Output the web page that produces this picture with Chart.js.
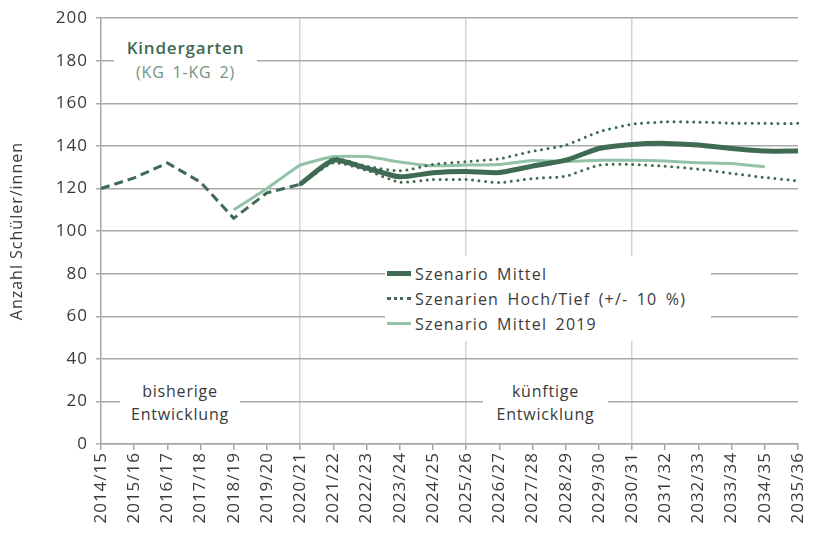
<!DOCTYPE html>
<html lang="de">
<head>
<meta charset="UTF-8">
<script src="https://cdn.jsdelivr.net/npm/chart.js"></script>
<title>Kindergarten</title>
<style>
  html, body { margin: 0; padding: 0; background: #fff; }
  #wrap { position: relative; width: 815px; height: 533px; font-family: "Open Sans", sans-serif; color: #3a3a3a; }
  canvas { position: absolute; left: 0; top: 0; }
  .box { position: absolute; background: #fff; text-align: center; letter-spacing: 0.8px; word-spacing: 3px; }
  .legend-row { position: absolute; left: 0; font-size: 16px; line-height: 20px; white-space: nowrap; letter-spacing: 1.2px; }
  .legend-row span.sample { position: absolute; left: 2px; top: 9px; width: 24px; }
  .legend-row span.text { position: absolute; left: 30px; top: 0; }
</style>
</head>
<body>
<div id="wrap">
  <canvas id="chart" width="815" height="533"></canvas>

  <!-- annotations -->
  <div class="box" style="left:114px; top:36px; width:143px; height:54px;">
    <div style="font-size:17px; font-weight:600; color:#3f6a53; line-height:24px;">Kindergarten</div>
    <div style="font-size:16px; color:#6f9480; line-height:24px;">(KG 1-KG 2)</div>
  </div>
  <div class="box" style="left:120px; top:380px; width:120px; height:46px; font-size:16px; line-height:23px;">bisherige<br>Entwicklung</div>
  <div class="box" style="left:483px; top:380px; width:125px; height:46px; font-size:16px; line-height:23px;">künftige<br>Entwicklung</div>

  <!-- legend -->
  <div class="box" style="left:385px; top:256px; width:326px; height:85px; text-align:left;">
    <div class="legend-row" style="top:8px;"><span class="sample" style="border-top:5px solid #3f6a53; top:7px;"></span><span class="text">Szenario Mittel</span></div>
    <div class="legend-row" style="top:33px;"><span class="sample" style="border-top:3px dotted #3f6a53; top:8px;"></span><span class="text">Szenarien Hoch/Tief (+/- 10 %)</span></div>
    <div class="legend-row" style="top:58px;"><span class="sample" style="border-top:3px solid #93c2a8; top:8px;"></span><span class="text">Szenario Mittel 2019</span></div>
  </div>
</div>

<script>
// school years
const years = ['2014/15', '2015/16', '2016/17', '2017/18', '2018/19', '2019/20', '2020/21',
  '2021/22', '2022/23', '2023/24', '2024/25', '2025/26', '2026/27', '2027/28', '2028/29',
  '2029/30', '2030/31', '2031/32', '2032/33', '2033/34', '2034/35', '2035/36'];

// past development (dashed)
const bisher = [120, 125, 132, 123, 106, 118, 122,
  null, null, null, null, null, null, null, null, null, null, null, null, null, null, null];

// Szenario Mittel
const mittel = [null, null, null, null, null, null, 122,
  133.3, 129.6, 125.5, 127.4, 128, 127.5, 130.5, 133.3, 138.8, 140.7, 141.2, 140.4, 138.8, 137.6, 137.6];

// Szenarien Hoch / Tief
const hoch = [null, null, null, null, null, null, 122,
  134, 130.5, 128.3, 131.3, 132.6, 134, 137.5, 140.4, 146.6, 150.2, 151.3, 151.2, 150.7, 150.6, 150.6];
const tief = [null, null, null, null, null, null, 122,
  132, 128.6, 123, 124.2, 124.2, 122.8, 124.7, 125.8, 131, 131.3, 130.5, 129.1, 127.1, 125.2, 123.6];

// Szenario Mittel 2019
const mittel2019 = [null, null, null, null, 110, 120, 131,
  135, 135, 132.5, 130.7, 131, 131.3, 133.2, 132.7, 133.3, 133.3, 132.9, 132.1, 131.8, 130.2, null];

const yTicks = [0, 20, 40, 60, 80, 100, 120, 140, 160, 180, 200];

const dark = '#3f6a53';
const light = '#93c2a8';
const gridVert = [6, 11, 16];

const spacing = {
  id: 'spacing',
  beforeLayout(chart) { chart.ctx.letterSpacing = '1px'; },
  beforeDraw(chart) { chart.ctx.letterSpacing = '1px'; }
};

new Chart(document.getElementById('chart'), {
  type: 'line',
  data: {
    labels: years,
    datasets: [
      { label: 'Szenario Mittel', data: mittel, borderColor: dark, borderWidth: 5, tension: 0.2, order: 0 },
      { label: 'bisher', data: bisher, borderColor: dark, borderWidth: 3, borderDash: [9, 5], order: 1 },
      { label: 'Hoch', data: hoch, borderColor: dark, borderWidth: 3, borderDash: [0, 6.5], borderCapStyle: 'round', tension: 0.2, order: 2 },
      { label: 'Tief', data: tief, borderColor: dark, borderWidth: 3, borderDash: [0, 6.5], borderCapStyle: 'round', tension: 0.2, order: 2 },
      { label: 'Szenario Mittel 2019', data: mittel2019, borderColor: light, borderWidth: 3, tension: 0.1, order: 3 }
    ]
  },
  options: {
    responsive: false,
    animation: false,
    events: [],
    layout: { padding: { left: 0, right: 17, top: 18, bottom: 0 } },
    elements: { point: { radius: 0 }, line: { fill: false } },
    plugins: { legend: { display: false }, tooltip: { enabled: false } },
    scales: {
      x: {
        offset: false,
        grid: {
          color: ctx => gridVert.includes(ctx.index) ? '#d4d4d4' : 'rgba(0,0,0,0)',
          tickColor: '#a6a6a6',
          tickLength: 6,
          lineWidth: 1.5
        },
        border: { color: '#a6a6a6', width: 1.5 },
        ticks: {
          autoSkip: false, maxRotation: 90, minRotation: 90,
          color: '#3a3a3a', font: { family: 'Open Sans', size: 17 }, padding: 2
        },
        afterFit: scale => { scale.height = 89; scale.paddingRight = 0; scale.paddingLeft = 0; }
      },
      y: {
        min: 0, max: 200,
        afterBuildTicks: scale => { scale.ticks = yTicks.map(v => ({ value: v })); },
        grid: { color: '#aaaaaa', lineWidth: 1.5, tickColor: '#aaaaaa', tickLength: 5 },
        border: { color: '#a6a6a6', width: 1.5 },
        ticks: { color: '#3a3a3a', font: { family: 'Open Sans', size: 17 }, padding: 8 },
        title: {
          display: true, text: 'Anzahl Schüler/innen', color: '#3a3a3a',
          font: { family: 'Open Sans', size: 16 }, padding: { top: 8, bottom: 4 }
        },
        afterFit: scale => { scale.width = 101; }
      }
    }
  },
  plugins: [spacing]
});
</script>
</body>
</html>
